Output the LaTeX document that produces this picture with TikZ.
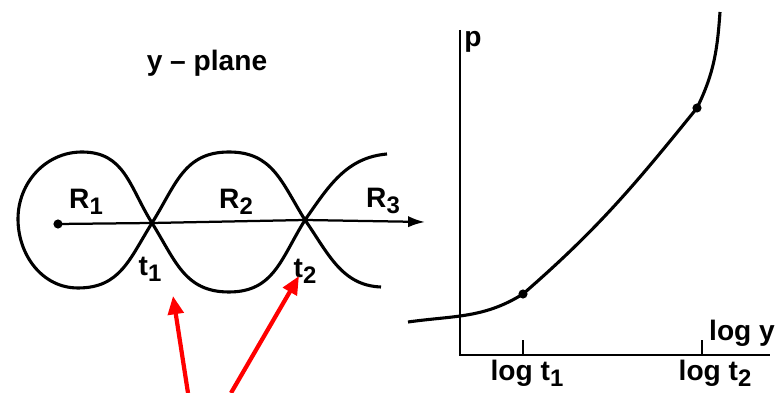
\documentclass[tikz,border=0pt]{standalone}
\usepackage{fontspec}
\setmainfont{Liberation Sans}
\usetikzlibrary{arrows.meta}

\newcommand{\lowsub}[1]{\raisebox{-0.4ex}{\fontsize{17}{19}\selectfont #1}}

\begin{document}
\begin{tikzpicture}[
      x=0.025cm, y=0.025cm,
      curve/.style={line width=2.2pt},
      axisline/.style={line width=1.6pt},
      lbl/.style={font=\fontsize{20}{22}\selectfont\bfseries,inner sep=0pt},
      dotnode/.style={circle,fill=black,inner sep=0pt,minimum size=6.5pt},
      hint/.style={-{Triangle[length=13pt,width=11pt]},red,line width=3pt}
    ]
      \useasboundingbox (0,0) rectangle (784,393);

      % y-plane
      \node[lbl] (title) at (207,330) {y -- plane};
      \node[dotnode] (orig) at (58,169) {};
      \coordinate (t1) at (152,170);
      \coordinate (t2) at (305,173);
      \coordinate (yend) at (425,171);
      \draw[axisline,-{Latex[length=12pt,width=8pt]}] (orig.center) -- (t1) -- (t2) -- (yend);

      \draw[curve] (t1) to[out=122,in=0,looseness=1.1] (82,241) to[out=180,in=90] (18,174)
        to[out=270,in=180] (78,105) to[out=0,in=238,looseness=1.1] (t1);
      \draw[curve] (t1) to[out=58,in=180,looseness=1.1] (229,241) to[out=0,in=122,looseness=1.1] (t2);
      \draw[curve] (t1) to[out=-58,in=180,looseness=1.1] (229,101) to[out=0,in=238,looseness=1.1] (t2);
      \coordinate (ru) at (387,239);
      \coordinate (rl) at (381,106);
      \draw[curve] (t2) to[out=55,in=185] (ru);
      \draw[curve] (t2) to[out=-55,in=178] (rl);

      \node[lbl] (r1) at (86,191) {R\lowsub{1}};
      \node[lbl] (r2) at (236,191) {R\lowsub{2}};
      \node[lbl] (r3) at (383,192) {R\lowsub{3}};
      \node[lbl] (lt1) at (150,124) {t\lowsub{1}};
      \node[lbl] (lt2) at (305,122) {t\lowsub{2}};

      % p against log y
      \coordinate (o) at (460,38);
      \coordinate (ptop) at (460,363);
      \coordinate (xend) at (770,38);
      \draw[axisline] (ptop) -- (o) -- (xend);
      \coordinate (k1) at (523,38);
      \coordinate (k1t) at (523,53);
      \coordinate (k2) at (702,38);
      \coordinate (k2t) at (702,53);
      \draw[axisline] (k1) -- (k1t);
      \draw[axisline] (k2) -- (k2t);

      \node[lbl] (pl) at (473,351) {p};
      \node[lbl] (logy) at (742,60) {log y};
      \node[lbl] (logt1) at (527,20) {log t\lowsub{1}};
      \node[lbl] (logt2) at (715,20) {log t\lowsub{2}};

      \node[dotnode] (d1) at (523,99) {};
      \node[dotnode] (d2) at (697,285) {};
      \coordinate (c0) at (408,71);
      \coordinate (c3) at (720,381);
      \draw[curve] (c0) to[out=8,in=212] (d1.center) to[out=41,in=231] (d2.center)
        to[out=64,in=266] (c3);

      % red pointers
      \coordinate (a1) at (188,0);
      \coordinate (a1tip) at (173,97);
      \coordinate (a2) at (231,0);
      \coordinate (a2tip) at (299,117);
      \draw[hint] (a1) -- (a1tip);
      \draw[hint] (a2) -- (a2tip);
    \end{tikzpicture}
\end{document}
